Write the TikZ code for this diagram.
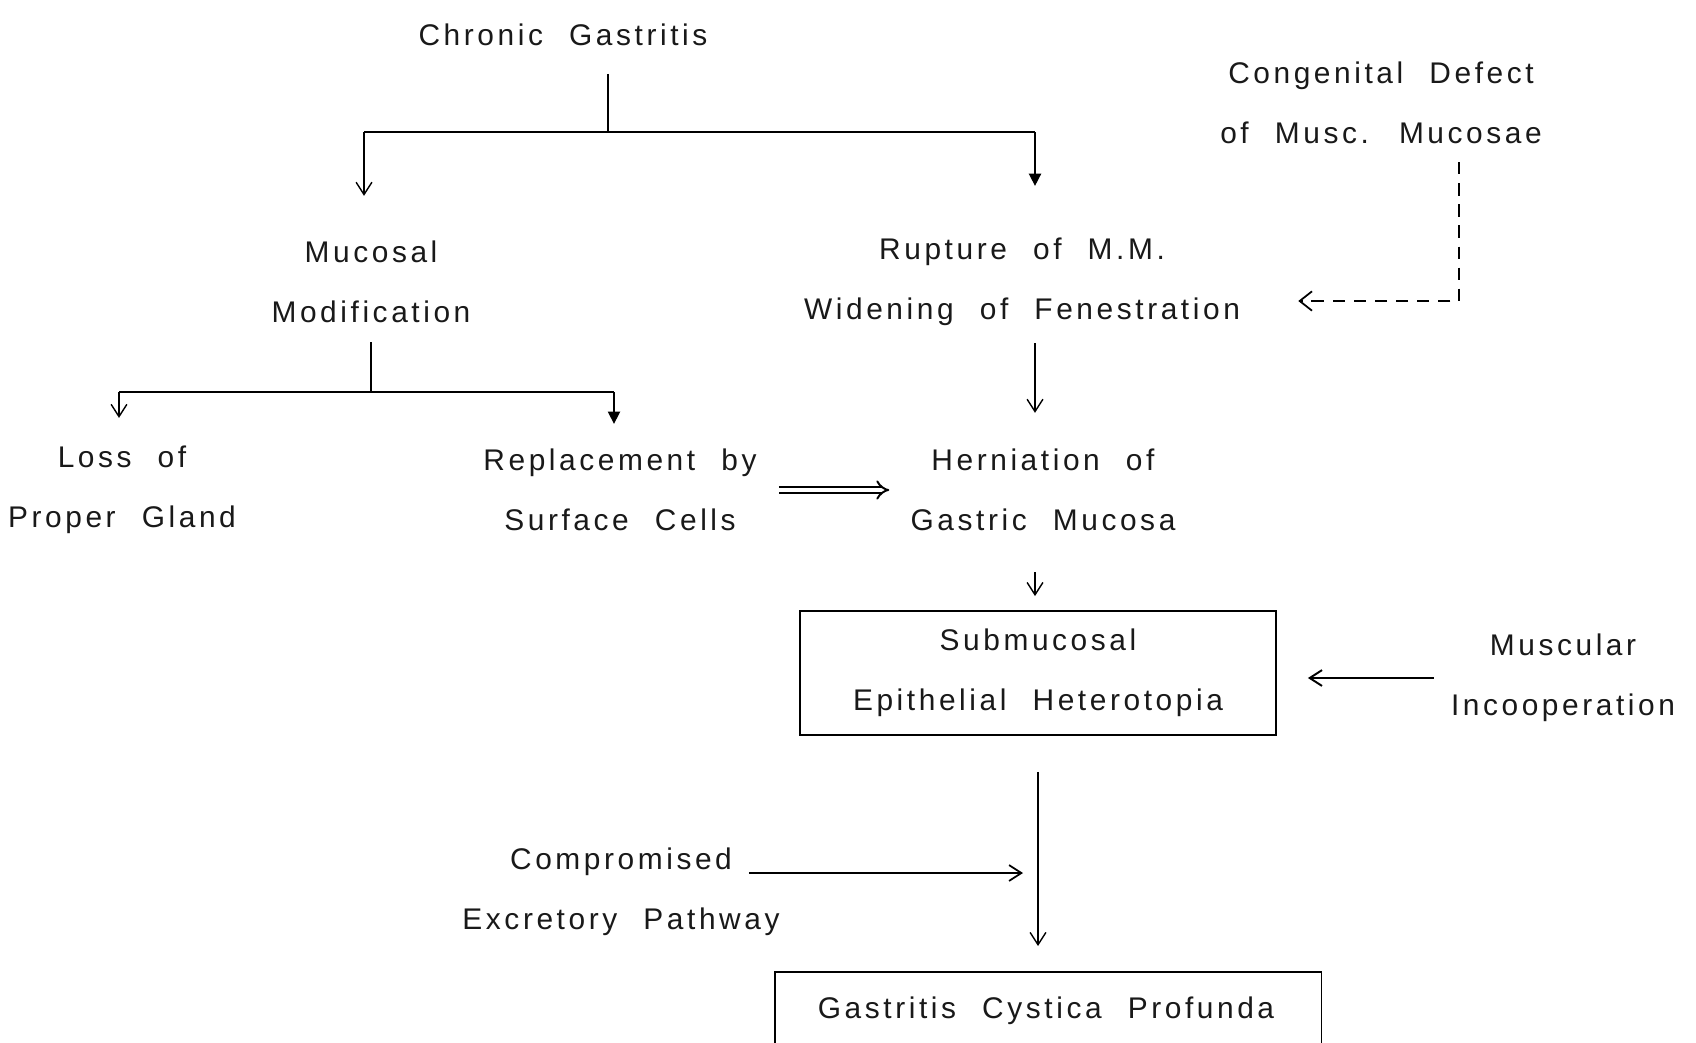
\documentclass[tikz,border=0pt]{standalone}
\usepackage{fontspec}
\setmainfont{Liberation Sans}[LetterSpace=12,WordSpace=2.2]
\usetikzlibrary{arrows.meta,calc}
\tikzset{
  lbl/.style={font=\fontsize{17}{34}\selectfont, align=center, inner sep=0pt, text=black!90},
  thin/.style={line width=0.8pt},
  barline/.style={line width=1.6pt},
  arr/.style={line width=0.8pt, -{Straight Barb[length=7pt,width=9pt]}},
  arrf/.style={line width=0.9pt, -{Triangle[length=7pt,width=7pt]}},
  dasharr/.style={line width=1pt, dash pattern=on 7pt off 5pt, -{Straight Barb[length=7pt,width=11pt]}},
  boxed/.style={draw, line width=1.1pt}
}
\begin{document}
\begin{tikzpicture}[x=0.02cm,y=-0.02cm]
\useasboundingbox (0,0) rectangle (1696,1042);
% nodes
\node[lbl] (cg) at (563,35) {Chronic Gastritis};
\node[lbl] (cd) at (1381,103) {Congenital Defect\\of Musc. Mucosae};
\node[lbl] (mm) at (371,282) {Mucosal\\Modification};
\node[lbl] (rup) at (1022,282) {Rupture of M.M.\\Widening of Fenestration};
\node[lbl] (loss) at (122,490) {Loss of\\Proper Gland};
\node[lbl] (rep) at (620,490) {Replacement by\\Surface Cells};
\node[lbl] (her) at (1043,490) {Herniation of\\Gastric Mucosa};
\node[lbl, boxed, minimum width=9.52cm, minimum height=2.48cm] (sub) at (1038,673) {Submucosal\\Epithelial Heterotopia};
\node[lbl] (mus) at (1563,678) {Muscular\\Incooperation};
\node[lbl] (comp) at (621,892) {Compromised\\Excretory Pathway};
\node[boxed, minimum width=10.94cm, minimum height=3cm, anchor=north] (gcpbox) at (1048,971) {};
\node[lbl] (gcp) at (1046,1011) {Gastritis Cystica Profunda};
% junctions
\coordinate (j1) at (608,132);
\coordinate (ba) at (364,132);
\coordinate (bb) at (1035,132);
\coordinate (j2) at (371,392);
\coordinate (bc) at (119,392);
\coordinate (bd) at (614,392);
\coordinate (dc) at (1459,301);
\coordinate (m) at (1038,873);
% connectors
\draw[thin, shorten <=0.55cm] (j1 |- cg.south) -- (j1);
\draw[barline] (ba) -- (bb);
\draw[arr, shorten >=0.9cm] (ba) -- (ba |- mm.north);
\draw[arrf, shorten >=1.04cm] (bb) -- (bb |- rup.north);
\draw[thin, shorten <=0.38cm] (j2 |- mm.south) -- (j2);
\draw[barline] (bc) -- (bd);
\draw[arr, shorten >=0.56cm] (bc) -- (bc |- loss.north);
\draw[arrf, shorten >=0.5cm] (bd) -- (bd |- rep.north);
\draw[arr, shorten <=0.34cm, shorten >=0.72cm] (bb |- rup.south) -- (bb |- her.north);
\draw[double, double distance=2.6pt, line width=1.1pt, -{Implies}, shorten <=0.44cm, shorten >=0.42cm] (rep.east) -- (rep.east -| her.west);
\draw[arr, shorten <=0.82cm, shorten >=0.28cm] (bb |- her.south) -- (bb |- sub.north);
\draw[dasharr, shorten <=0.36cm, shorten >=1.16cm] (dc |- cd.south) -- (dc) -- (dc -| rup.east);
\draw[arr, line width=1.1pt, shorten <=0.34cm, shorten >=0.62cm] (mus.west) -- (mus.west -| sub.east);
\draw[arr, shorten <=0.72cm, shorten >=0.5cm] (m |- sub.south) -- (m |- gcpbox.north);
\draw[arr, line width=1pt, shorten <=-0.62cm, shorten >=0.3cm] (comp.east |- m) -- (m);
\end{tikzpicture}
\end{document}
